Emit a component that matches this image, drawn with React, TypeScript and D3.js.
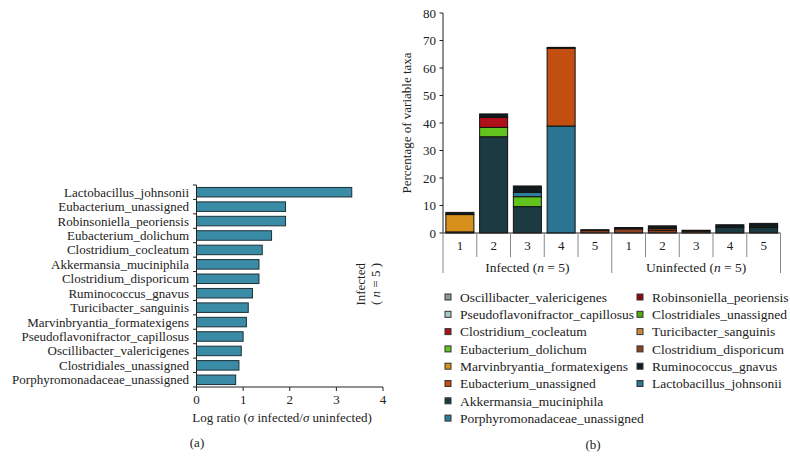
import React from "react";
import * as d3 from "d3";

const taxaA = [
  "Lactobacillus_johnsonii",
  "Eubacterium_unassigned",
  "Robinsoniella_peoriensis",
  "Eubacterium_dolichum",
  "Clostridium_cocleatum",
  "Akkermansia_muciniphila",
  "Clostridium_disporicum",
  "Ruminococcus_gnavus",
  "Turicibacter_sanguinis",
  "Marvinbryantia_formatexigens",
  "Pseudoflavonifractor_capillosus",
  "Oscillibacter_valericigenes",
  "Clostridiales_unassigned",
  "Porphyromonadaceae_unassigned",
];
const logRatios = [3.33, 1.91, 1.91, 1.61, 1.41, 1.34, 1.34, 1.2, 1.11, 1.07, 1.0, 0.96, 0.91, 0.84];
const xTicksA = [0, 1, 2, 3, 4];

const samples = ["I1", "I2", "I3", "I4", "I5", "U1", "U2", "U3", "U4", "U5"];
const sampleLabels = ["1", "2", "3", "4", "5", "1", "2", "3", "4", "5"];
const groups = ["Infected", "Uninfected"];
const yTicksB = [0, 10, 20, 30, 40, 50, 60, 70, 80];

// legend order (two columns)
const legendLeft = [
  "Oscillibacter_valericigenes",
  "Pseudoflavonifractor_capillosus",
  "Clostridium_cocleatum",
  "Eubacterium_dolichum",
  "Marvinbryantia_formatexigens",
  "Eubacterium_unassigned",
  "Akkermansia_muciniphila",
  "Porphyromonadaceae_unassigned",
];
const legendRight = [
  "Robinsoniella_peoriensis",
  "Clostridiales_unassigned",
  "Turicibacter_sanguinis",
  "Clostridium_disporicum",
  "Ruminococcus_gnavus",
  "Lactobacillus_johnsonii",
];

const taxaColors: Record<string, string> = {
  Oscillibacter_valericigenes: "#8a9a9a",
  Pseudoflavonifractor_capillosus: "#a8c6cc",
  Clostridium_cocleatum: "#b0101a",
  Eubacterium_dolichum: "#62c21e",
  Marvinbryantia_formatexigens: "#d8901c",
  Eubacterium_unassigned: "#c24e12",
  Akkermansia_muciniphila: "#1c3a42",
  Porphyromonadaceae_unassigned: "#2c7c9c",
  Robinsoniella_peoriensis: "#8a0c10",
  Clostridiales_unassigned: "#4faa14",
  Turicibacter_sanguinis: "#cc8a3a",
  Clostridium_disporicum: "#8c4020",
  Ruminococcus_gnavus: "#121c20",
  Lactobacillus_johnsonii: "#2a7592",
};

// stacking order, bottom to top
const stackOrder = [
  "Akkermansia_muciniphila",
  "Clostridium_disporicum",
  "Marvinbryantia_formatexigens",
  "Eubacterium_dolichum",
  "Clostridiales_unassigned",
  "Lactobacillus_johnsonii",
  "Porphyromonadaceae_unassigned",
  "Pseudoflavonifractor_capillosus",
  "Oscillibacter_valericigenes",
  "Turicibacter_sanguinis",
  "Eubacterium_unassigned",
  "Clostridium_cocleatum",
  "Robinsoniella_peoriensis",
  "Ruminococcus_gnavus",
];

// per-sample percentages for each taxon (I1..I5, U1..U5)
const akkermansia = [0.4, 35, 9.6, 0, 0, 0, 0, 0, 2.2, 2.0];
const disporicum = [0, 0, 0, 0, 0.9, 1.5, 1.0, 0.7, 0, 0];
const marvinbryantia = [6.3, 0, 0, 0, 0, 0, 0, 0, 0, 0];
const dolichum = [0, 3.4, 3.6, 0, 0, 0, 0, 0, 0, 0];
const clostridiales = [0, 0, 0, 0, 0, 0, 0, 0, 0, 0.5];
const lactobacillus = [0, 0, 0, 38.9, 0, 0, 0, 0, 0, 0];
const porphyro = [0, 0, 1.6, 0, 0, 0, 0, 0, 0, 0];
const pseudoflav = [0, 0, 0, 0, 0, 0, 0, 0, 0, 0];
const oscillibacter = [0, 0, 0, 0, 0, 0, 0, 0, 0, 0];
const turicibacter = [0, 0, 0, 0, 0, 0, 0, 0, 0, 0];
const eubUnassigned = [0, 0, 0, 28.3, 0, 0, 0.6, 0, 0, 0];
const cocleatum = [0, 3.6, 0, 0, 0, 0, 0, 0, 0, 0];
const robinsoniella = [0, 0, 0, 0, 0, 0, 0, 0, 0, 0];
const ruminococcus = [0.8, 1.3, 2.3, 0.3, 0.3, 0.5, 1.0, 0.3, 0.8, 1.0];

const seriesValues: Record<string, number[]> = {
  Akkermansia_muciniphila: akkermansia,
  Clostridium_disporicum: disporicum,
  Marvinbryantia_formatexigens: marvinbryantia,
  Eubacterium_dolichum: dolichum,
  Clostridiales_unassigned: clostridiales,
  Lactobacillus_johnsonii: lactobacillus,
  Porphyromonadaceae_unassigned: porphyro,
  Pseudoflavonifractor_capillosus: pseudoflav,
  Oscillibacter_valericigenes: oscillibacter,
  Turicibacter_sanguinis: turicibacter,
  Eubacterium_unassigned: eubUnassigned,
  Clostridium_cocleatum: cocleatum,
  Robinsoniella_peoriensis: robinsoniella,
  Ruminococcus_gnavus: ruminococcus,
};

const FONT = "'Liberation Serif', 'Times New Roman', serif";

export default function App() {
  // ---- panel (a) ----
  const xA = d3.scaleLinear().domain([0, 4]).range([196.5, 383]);
  const yA = d3.scaleBand<string>().domain(taxaA).range([185, 387]).paddingInner(0.34).paddingOuter(0.17);
  const stepA = (387 - 185) / taxaA.length;

  // ---- panel (b) ----
  const xB = d3.scaleBand<string>().domain(samples).range([443, 780.5]).paddingInner(0.17).paddingOuter(0.085);
  const yB = d3.scaleLinear().domain([0, 80]).range([233, 13]);
  const table = samples.map((s, i) => {
    const row: Record<string, number | string> = { sample: s };
    stackOrder.forEach((k) => (row[k] = seriesValues[k][i]));
    return row;
  });
  const stacked = d3.stack<any>().keys(stackOrder)(table as any);
  const bandB = (780.5 - 443) / samples.length;

  return (
    <svg width={790} height={470} style={{ position: "absolute", left: 0, top: 0, background: "#fff" }} fontFamily={FONT}>
      <rect width={790} height={470} fill="#fff" />
      {/* Panel a bars */}
      {taxaA.map((t, i) => (
        <rect
          key={t}
          x={xA(0)}
          y={yA(t)!}
          width={xA(logRatios[i]) - xA(0)}
          height={yA.bandwidth()}
          fill="#3a8ba6"
          stroke="#1d2f36"
          strokeWidth={1}
        />
      ))}
      {/* Panel a y axis */}
      <line x1={196.5} x2={196.5} y1={185} y2={387} stroke="#222" strokeWidth={1} />
      {d3.range(taxaA.length + 1).map((i) => (
        <line key={i} x1={193} x2={196.5} y1={185 + i * stepA} y2={185 + i * stepA} stroke="#222" strokeWidth={1} />
      ))}
      {taxaA.map((t) => (
        <text key={t} x={189} y={yA(t)! + yA.bandwidth() / 2} dy="0.35em" textAnchor="end" fontSize={13} fill="#222">
          {t}
        </text>
      ))}
      {/* Panel a x axis */}
      <line x1={196.5} x2={383} y1={387} y2={387} stroke="#222" strokeWidth={1} />
      {xTicksA.map((v) => (
        <g key={v}>
          <line x1={xA(v)} x2={xA(v)} y1={387} y2={391} stroke="#222" strokeWidth={1} />
          <text x={xA(v)} y={404} textAnchor="middle" fontSize={13} fill="#222">
            {v}
          </text>
        </g>
      ))}
      <text x={282} y={422} textAnchor="middle" fontSize={13} fill="#222">
        Log ratio (<tspan fontStyle="italic">σ</tspan> infected/<tspan fontStyle="italic">σ</tspan> uninfected)
      </text>
      <text x={197} y={447} textAnchor="middle" fontSize={13} fill="#222">
        (a)
      </text>
      <g transform="translate(365,263) rotate(-90)">
        <text x={0} y={0} textAnchor="end" fontSize={13} fill="#222">
          Infected
        </text>
        <text x={0} y={15} textAnchor="end" fontSize={13} fill="#222">
          ( <tspan fontStyle="italic">n</tspan> = 5 )
        </text>
      </g>

      {/* Panel b bars */}
      {stacked.map((layer) =>
        layer.map((d, i) =>
          d[1] - d[0] > 0 ? (
            <rect
              key={layer.key + i}
              x={xB(samples[i])!}
              y={yB(d[1])}
              width={xB.bandwidth()}
              height={yB(d[0]) - yB(d[1])}
              fill={taxaColors[layer.key]}
              stroke="#111"
              strokeWidth={1}
            />
          ) : null
        )
      )}
      {/* Panel b y axis */}
      <line x1={443} x2={443} y1={13} y2={233} stroke="#222" strokeWidth={1} />
      {yTicksB.map((v) => (
        <g key={v}>
          <line x1={439.5} x2={443} y1={yB(v)} y2={yB(v)} stroke="#222" strokeWidth={1} />
          <text x={436} y={yB(v)} dy="0.35em" textAnchor="end" fontSize={13} fill="#222">
            {v}
          </text>
        </g>
      ))}
      <text transform={`translate(411,${(13 + 233) / 2}) rotate(-90)`} textAnchor="middle" fontSize={13} fill="#222">
        Percentage of variable taxa
      </text>
      {/* Panel b x axis */}
      <line x1={443} x2={780.5} y1={233} y2={233} stroke="#222" strokeWidth={1} />
      {d3.range(samples.length + 1).map((i) => {
        const x = 443 + i * bandB;
        const long = i === 0 || i === 5 || i === samples.length;
        return <line key={i} x1={x} x2={x} y1={233} y2={long ? 273 : 257} stroke="#888" strokeWidth={1} />;
      })}
      {samples.map((s, i) => (
        <text key={s} x={xB(s)! + xB.bandwidth() / 2} y={245} dy="0.35em" textAnchor="middle" fontSize={13} fill="#222">
          {sampleLabels[i]}
        </text>
      ))}
      {groups.map((g, gi) => (
        <text key={g} x={443 + (gi * 5 + 2.5) * bandB} y={267} dy="0.35em" textAnchor="middle" fontSize={13.5} fill="#222">
          {g} (<tspan fontStyle="italic">n</tspan> = 5)
        </text>
      ))}
      {/* Legend */}
      {[legendLeft, legendRight].map((col, ci) =>
        col.map((name, ri) => {
          const mx = ci === 0 ? 448 : 640;
          const y = 297 + ri * 17.3;
          return (
            <g key={name}>
              <rect x={mx - 3} y={y - 3} width={6} height={6} fill={taxaColors[name]} stroke="#333" strokeWidth={1} />
              <text x={mx + 12} y={y} dy="0.35em" fontSize={13.5} fill="#222">
                {name}
              </text>
            </g>
          );
        })
      )}
      <text x={593} y={449} textAnchor="middle" fontSize={13} fill="#222">
        (b)
      </text>
    </svg>
  );
}
